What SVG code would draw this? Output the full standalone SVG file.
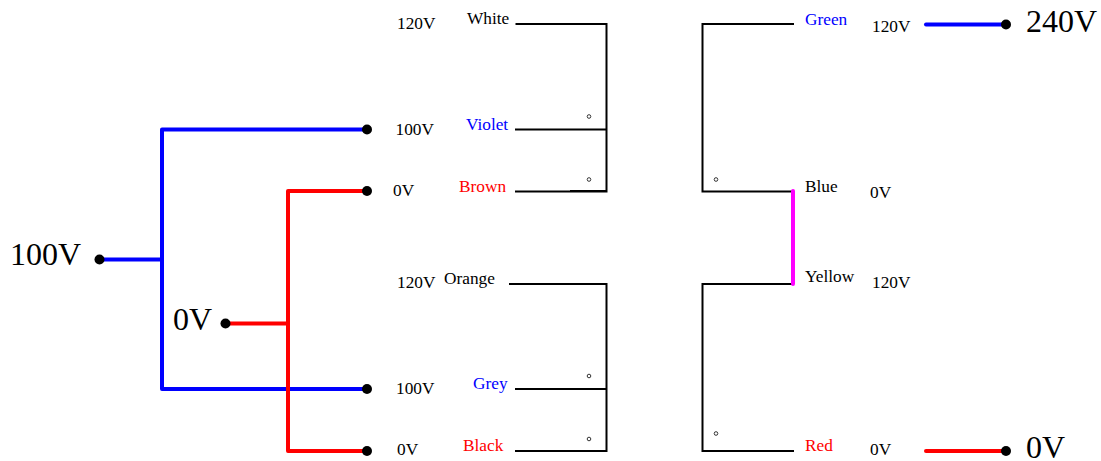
<svg xmlns="http://www.w3.org/2000/svg" width="1101" height="461" viewBox="0 0 1101 461">
<style>
text{font-family:"Liberation Serif","Times New Roman",serif;font-size:17.300px;fill:#000}
.big{font-size:32px}
.b{fill:#00f}
.r{fill:#f00}
.w{fill:none;stroke:#000;stroke-width:2}
.wb{fill:none;stroke:#00f;stroke-width:4;stroke-linejoin:round;stroke-linecap:round}
.wr{fill:none;stroke:#f00;stroke-width:4;stroke-linejoin:round;stroke-linecap:round}
.wm{fill:none;stroke:#f0f;stroke-width:4;stroke-linecap:round}
.dot{fill:#000}
.pol{fill:#fff;stroke:#333;stroke-width:1}
</style>
<rect width="1101" height="461" fill="#fff"/>
<g id="connectors">
<path class="wb" d="M100 259.500H161"/>
<path class="wb" d="M367 129.500H162V389H367"/>
<path class="wr" d="M225 323.500H287"/>
<path class="wr" d="M367 191H288V451H367"/>
<path class="wb" d="M926 24.500H1006"/>
<path class="wr" d="M926 451H1006"/>
<path class="w" d="M515.500 24H606.500V191.500H515"/>
<path class="w" d="M515 129.500H606"/>
<path class="w" d="M570 191H606"/>
<path class="w" d="M509 284H606.500V451H515"/>
<path class="w" d="M515 389H606"/>
<path class="w" d="M794 24H702.500V191.500H793"/>
<path class="w" d="M793 284H702.500V451H794"/>
<path class="wm" d="M793 191V284"/>
</g>
<g id="terminals">
<circle class="dot" cx="99.500" cy="259.500" r="5"/>
<circle class="dot" cx="225.500" cy="323.500" r="5"/>
<circle class="dot" cx="367" cy="129.500" r="5"/>
<circle class="dot" cx="367" cy="191" r="5"/>
<circle class="dot" cx="367" cy="389" r="5"/>
<circle class="dot" cx="367" cy="451" r="5"/>
<circle class="dot" cx="1006" cy="24.500" r="5"/>
<circle class="dot" cx="1006" cy="451" r="5"/>
</g>
<g id="polarity-dots">
<circle class="pol" cx="589" cy="116.500" r="1.800"/>
<circle class="pol" cx="589" cy="179.500" r="1.800"/>
<circle class="pol" cx="589" cy="376" r="1.800"/>
<circle class="pol" cx="589" cy="439" r="1.800"/>
<circle class="pol" cx="716" cy="179.500" r="1.800"/>
<circle class="pol" cx="716" cy="433.500" r="1.800"/>
</g>
<g id="input-labels">
<text class="big" x="10" y="265">100V</text>
<text class="big" x="173" y="330">0V</text>
</g>
<g id="output-labels">
<text class="big" x="1026" y="32">240V</text>
<text class="big" x="1026" y="458">0V</text>
</g>
<g id="transformer-1-labels">
<text x="397" y="29">120V</text>
<text x="395.500" y="135">100V</text>
<text x="393" y="196">0V</text>
<text x="467" y="24">White</text>
<text class="b" x="466" y="130">Violet</text>
<text class="r" x="459" y="192">Brown</text>
</g>
<g id="transformer-2-labels">
<text x="397" y="288">120V</text>
<text x="396" y="394">100V</text>
<text x="397" y="455">0V</text>
<text x="444" y="284">Orange</text>
<text class="b" x="473" y="389">Grey</text>
<text class="r" x="463" y="451">Black</text>
</g>
<g id="transformer-3-labels">
<text class="b" x="805" y="25">Green</text>
<text x="805" y="192">Blue</text>
<text x="805" y="282">Yellow</text>
<text class="r" x="805" y="451">Red</text>
<text x="872" y="32">120V</text>
<text x="870" y="198">0V</text>
<text x="872" y="288">120V</text>
<text x="870" y="455">0V</text>
</g>
</svg>
